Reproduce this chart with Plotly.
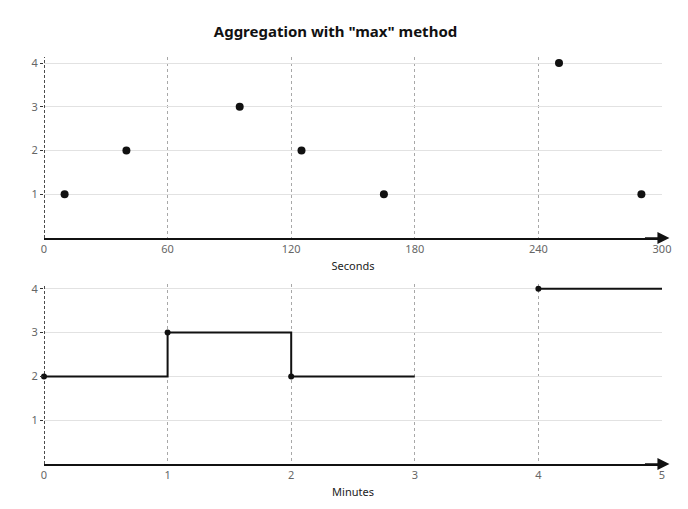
import plotly.graph_objects as go

# ---- data ----
seconds = [10, 40, 95, 125, 165, 250, 290]
values = [1, 2, 3, 2, 1, 4, 1]

minute_starts = [0, 1, 2, 3, 4]
minute_max = [2, 3, 2, None, 4]

sec_ticks = [0, 60, 120, 180, 240, 300]
min_ticks = [0, 1, 2, 3, 4, 5]
y_ticks = [1, 2, 3, 4]

title = 'Aggregation with "max" method'

# build step line from bucket maxima (each bucket lasts 1 minute)
step_x, step_y = [], []
prev = None
for s, v in zip(minute_starts, minute_max):
    if v is None:
        if prev is not None:
            step_x.append(s); step_y.append(prev)
            step_x.append(None); step_y.append(None)
        prev = None
        continue
    step_x.append(s); step_y.append(v)
    prev = v
if prev is not None:
    step_x.append(minute_starts[-1] + 1); step_y.append(prev)

mk_x = [s for s, v in zip(minute_starts, minute_max) if v is not None]
mk_y = [v for v in minute_max if v is not None]

FONT = "Noto Sans"
W, H = 688, 509
OFF = 8  # page body margin offset

fig = go.Figure()

fig.add_trace(go.Scatter(x=seconds, y=values, mode="markers",
                         marker=dict(color="#111111", size=8),
                         xaxis="x", yaxis="y", showlegend=False, cliponaxis=False))
fig.add_trace(go.Scatter(x=step_x, y=step_y, mode="lines", line_shape="hv",
                         line=dict(color="#111111", width=2),
                         xaxis="x2", yaxis="y2", showlegend=False, connectgaps=False,
                         cliponaxis=False))
fig.add_trace(go.Scatter(x=mk_x, y=mk_y, mode="markers",
                         marker=dict(color="#111111", size=6),
                         xaxis="x2", yaxis="y2", showlegend=False, cliponaxis=False))

top_dom = [226 / 407, 1]
bot_dom = [0, 180 / 407]

xcommon = dict(showgrid=True, gridcolor="#a8a8a8", griddash="3px,3px", gridwidth=1,
               showline=True, linecolor="#111111", linewidth=1.5, ticks="",
               tickfont=dict(family=FONT, size=11, color="#666666"),
               zeroline=False, fixedrange=True, automargin=False)
ycommon = dict(showgrid=True, gridcolor="#e2e2e2", gridwidth=1,
               showline=False, ticks="outside", ticklen=3, tickcolor="#333333",
               tickwidth=1, tickvals=y_ticks,
               tickfont=dict(family=FONT, size=11, color="#666666"),
               zeroline=False, fixedrange=True, automargin=False)

fig.update_layout(
    width=W, height=H,
    margin=dict(l=44 - OFF, r=W - (662 - OFF), t=57 - OFF, b=H - (464 - OFF),
                autoexpand=False),
    paper_bgcolor="white", plot_bgcolor="white",
    title=dict(text="<b>" + title + "</b>", x=(335.5 - OFF) / W, xanchor="center",
               y=1 - (32 - OFF) / H, yanchor="middle",
               font=dict(family=FONT, size=15, color="#111111")),
    xaxis=dict(**xcommon, domain=[0, 1], range=[0, 300], tickvals=sec_ticks,
               anchor="y",
               title=dict(text="Seconds", standoff=7,
                          font=dict(family=FONT, size=11, color="#222222"))),
    yaxis=dict(**ycommon, domain=top_dom, range=[0, 4.14], anchor="x"),
    xaxis2=dict(**xcommon, domain=[0, 1], range=[0, 5], tickvals=min_ticks,
                anchor="y2",
                title=dict(text="Minutes", standoff=7,
                           font=dict(family=FONT, size=11, color="#222222"))),
    yaxis2=dict(**ycommon, domain=bot_dom, range=[0, 4.11], anchor="x2"),
)

# dashed y-axis lines and x-axis arrows
for xr, yr, xmax in (("x", "y", 300), ("x2", "y2", 5)):
    fig.add_shape(type="line", xref=xr, yref=yr + " domain", x0=0, x1=0, y0=0, y1=1,
                  line=dict(color="#111111", width=1.5, dash="3px,2px"))
    fig.add_annotation(xref=xr, yref=yr, x=xmax * 1.012, y=0, axref=xr, ayref=yr,
                       ax=xmax * 0.97, ay=0, showarrow=True, arrowhead=2,
                       arrowsize=1.6, arrowwidth=1.5, arrowcolor="#111111", text="")

fig.write_html("out.html")
